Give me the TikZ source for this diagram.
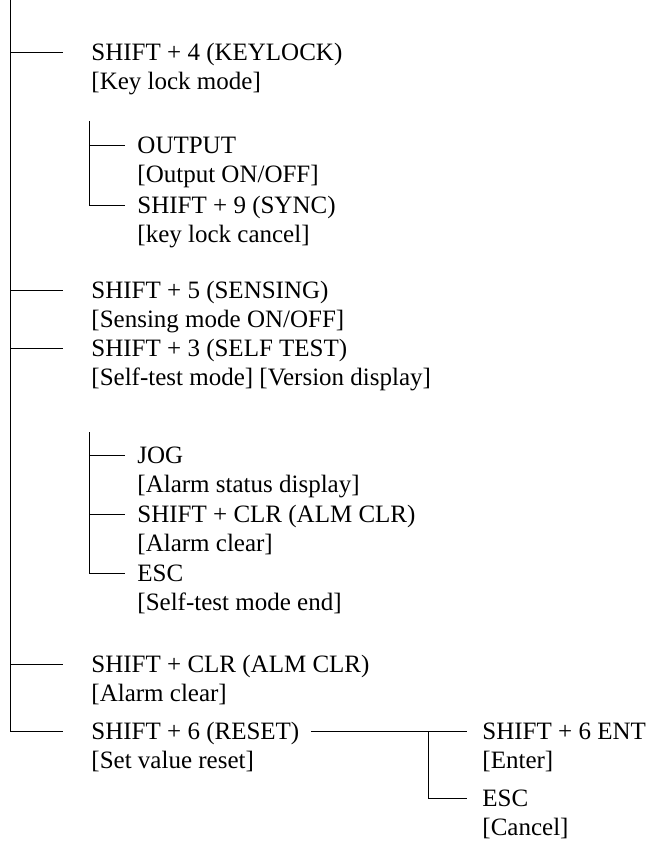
\documentclass[tikz,border=0pt]{standalone}
\usepackage{fontspec}
\setmainfont{Liberation Serif}
\begin{document}
\begin{tikzpicture}[x=1pt,y=-1pt,line width=.9pt,font=\fontsize{25}{29}\selectfont,
  item/.style={align=left,anchor=north west,inner sep=0pt}]
\useasboundingbox (0,0) rectangle (660,850);
% main keys
\node[item] (shA) at (91,43) {SHIFT + 4 (KEYLOCK)\\{[Key lock mode]}};
\node[item] (shB) at (91,281) {SHIFT + 5 (SENSING)\\{[Sensing mode ON/OFF]}};
\node[item] (shC) at (91,339) {SHIFT + 3 (SELF TEST)\\{[Self-test mode] [Version display]}};
\node[item] (shD) at (91,655) {SHIFT + CLR (ALM CLR)\\{[Alarm clear]}};
\node[item] (shE) at (91,722) {SHIFT + 6 (RESET)\\{[Set value reset]}};
% sub keys
\node[item] (outA) at (137,136) {OUTPUT\\{[Output ON/OFF]}};
\node[item] (syncA) at (137,196) {SHIFT + 9 (SYNC)\\{[key lock cancel]}};
\node[item] (jogC) at (137,446) {JOG\\{[Alarm status display]}};
\node[item] (clrC) at (137,505) {SHIFT + CLR (ALM CLR)\\{[Alarm clear]}};
\node[item] (escC) at (137,564) {ESC\\{[Self-test mode end]}};
\node[item] (entE) at (482,722) {SHIFT + 6 ENT\\{[Enter]}};
\node[item] (escE) at (482,789) {ESC\\{[Cancel]}};
% branch ends
\foreach \n in {shA,shB,shC,shD,shE}
  \coordinate (\n-in) at ([shift={(-28,9)}]\n.north west);
\foreach \n in {outA,syncA,jogC,clrC,escC}
  \coordinate (\n-in) at ([shift={(-12,9)}]\n.north west);
\foreach \n in {entE,escE}
  \coordinate (\n-in) at ([shift={(-15,9)}]\n.north west);
\coordinate (trunk) at (10,0);
\coordinate (subA) at (89,121);
\coordinate (subC) at (89,432);
\coordinate (resetout) at ([shift={(11,9)}]shE.north east);
\coordinate (subE) at (428,731);
% trunk
\draw (trunk) |- (shE-in);
\foreach \n in {shA,shB,shC,shD} \draw (trunk |- \n-in) -- (\n-in);
% key lock
\draw (subA) |- (syncA-in);
\draw (subA |- outA-in) -- (outA-in);
% self test
\draw (subC) |- (escC-in);
\foreach \n in {jogC,clrC} \draw (subC |- \n-in) -- (\n-in);
% reset
\draw (resetout) -- (entE-in);
\draw (subE |- entE-in) |- (escE-in);
\end{tikzpicture}
\end{document}
